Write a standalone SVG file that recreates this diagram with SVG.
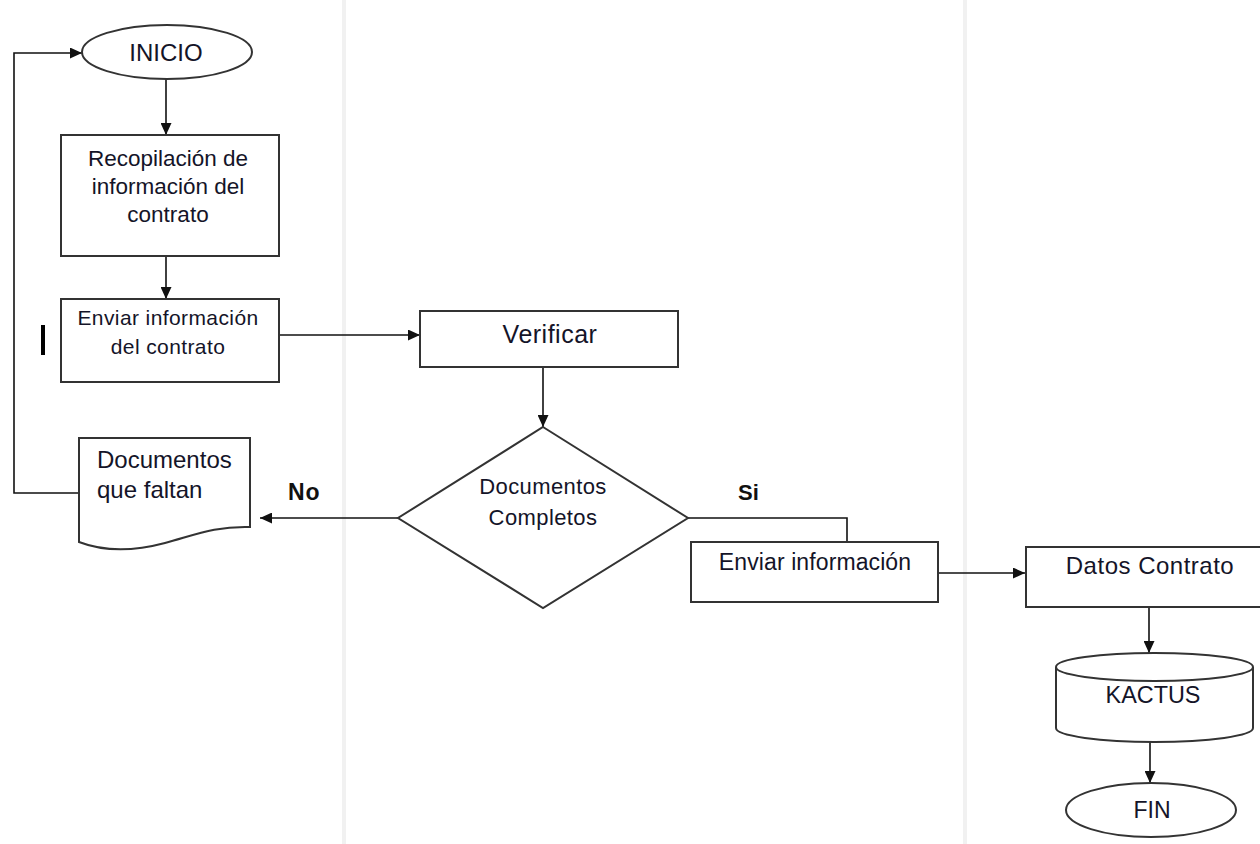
<svg xmlns="http://www.w3.org/2000/svg" width="1260" height="844" viewBox="0 0 1260 844">
<style>
.shape{fill:#fff;stroke:#333;stroke-width:2}
.conn{fill:none;stroke:#111;stroke-width:1.6}
.t{font-family:"Liberation Sans",Arial,sans-serif;fill:#141428;text-anchor:middle}
.b{font-family:"Liberation Sans",Arial,sans-serif;fill:#111;font-weight:bold}
.lane{fill:#f1f1f1}
</style>
<defs>
<marker id="arr" markerUnits="userSpaceOnUse" markerWidth="12" markerHeight="11" refX="12" refY="5.5" orient="auto">
<path d="M0,0 L12,5.5 L0,11 z" fill="#111"/>
</marker>
</defs>
<rect width="1260" height="844" fill="#fff"/>
<g id="lanes">
<rect class="lane" x="342" y="0" width="4" height="844"/>
<rect class="lane" x="963" y="0" width="4" height="844"/>
</g>
<g id="connectors">
<line class="conn" x1="166" y1="79" x2="166" y2="135" marker-end="url(#arr)"/>
<line class="conn" x1="166" y1="256" x2="166" y2="299" marker-end="url(#arr)"/>
<line class="conn" x1="279" y1="335" x2="420" y2="335" marker-end="url(#arr)"/>
<line class="conn" x1="543" y1="367" x2="543" y2="427" marker-end="url(#arr)"/>
<line class="conn" x1="398" y1="518" x2="260" y2="518" marker-end="url(#arr)"/>
<polyline class="conn" points="79,493 14,493 14,53 82,53" marker-end="url(#arr)"/>
<polyline class="conn" points="688,518 847,518 847,542"/>
<line class="conn" x1="938" y1="573" x2="1025" y2="573" marker-end="url(#arr)"/>
<line class="conn" x1="1149" y1="607" x2="1149" y2="653" marker-end="url(#arr)"/>
<line class="conn" x1="1150" y1="742" x2="1150" y2="783" marker-end="url(#arr)"/>
</g>
<g id="inicio">
<ellipse class="shape" cx="167" cy="52" rx="85" ry="27"/>
<text class="t" x="166" y="61" font-size="24">INICIO</text>
</g>
<g id="recopilacion">
<rect class="shape" x="61" y="135" width="218" height="121"/>
<text class="t" x="168" y="166" font-size="22.5">Recopilación de</text>
<text class="t" x="168" y="194" font-size="22.5">información del</text>
<text class="t" x="168" y="222" font-size="22.5">contrato</text>
</g>
<g id="enviar-contrato">
<rect class="shape" x="61" y="299" width="218" height="83"/>
<text class="t" x="168" y="325" font-size="21" letter-spacing="0.4">Enviar información</text>
<text class="t" x="168" y="354" font-size="21" letter-spacing="0.4">del contrato</text>
</g>
<rect id="mark" x="41" y="325" width="4" height="30" fill="#000"/>
<g id="verificar">
<rect class="shape" x="420" y="311" width="258" height="56"/>
<text class="t" x="550" y="343" font-size="25" letter-spacing="0.5">Verificar</text>
</g>
<g id="decision">
<polygon class="shape" points="543,427 688,518 543,608 398,518"/>
<text class="t" x="543" y="494" font-size="22" letter-spacing="0.4">Documentos</text>
<text class="t" x="543" y="525" font-size="22" letter-spacing="0.4">Completos</text>
</g>
<g id="faltan">
<path class="shape" d="M79,438 H250 V527 C215,526 195,535 165,543 C135,551 105,552 79,542 Z"/>
<text class="t" x="97" y="468" font-size="24" style="text-anchor:start">Documentos</text>
<text class="t" x="97" y="498" font-size="24" style="text-anchor:start">que faltan</text>
</g>
<text class="b" x="288" y="500" font-size="23" letter-spacing="1">No</text>
<text class="b" x="738" y="500" font-size="22">Si</text>
<g id="enviar-info">
<rect class="shape" x="691" y="542" width="247" height="60"/>
<text class="t" x="815" y="570" font-size="23" letter-spacing="0.1">Enviar información</text>
</g>
<g id="datos">
<rect class="shape" x="1026" y="547" width="240" height="60"/>
<text class="t" x="1150" y="574" font-size="24" letter-spacing="0.5">Datos Contrato</text>
</g>
<g id="kactus">
<path class="shape" d="M1056,667 V728 A98.5,14 0 0 0 1253,728 V667"/>
<ellipse class="shape" cx="1154.5" cy="667" rx="98.5" ry="14"/>
<text class="t" x="1153" y="703" font-size="23.4">KACTUS</text>
</g>
<g id="fin">
<ellipse class="shape" cx="1151" cy="810" rx="85" ry="27"/>
<text class="t" x="1152" y="818" font-size="23">FIN</text>
</g>
</svg>
